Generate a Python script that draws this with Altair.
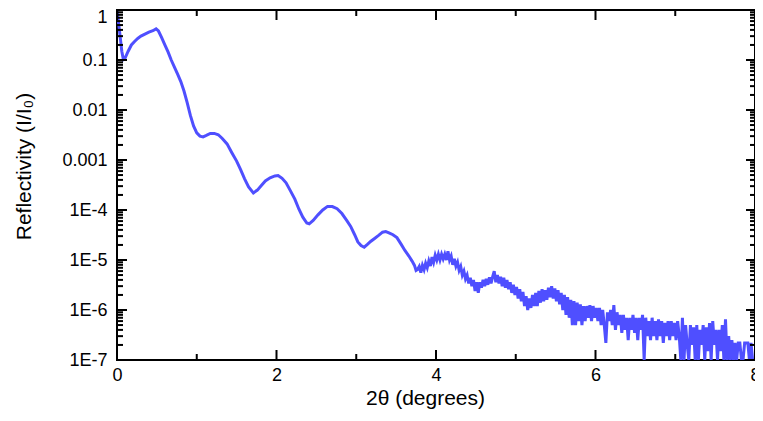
import altair as alt
import pandas as pd

# (2theta in degrees, reflectivity I/I0)
scan = [
    (0.00, 1.0), (0.03, 0.4), (0.06, 0.15), (0.08, 0.102), (0.10, 0.108),
    (0.14, 0.15), (0.18, 0.20), (0.22, 0.235), (0.26, 0.27), (0.30, 0.30),
    (0.35, 0.33), (0.40, 0.36), (0.45, 0.385), (0.49, 0.42), (0.52, 0.38),
    (0.56, 0.28), (0.60, 0.20), (0.64, 0.145), (0.68, 0.10), (0.72, 0.072),
    (0.76, 0.052), (0.80, 0.037), (0.84, 0.024), (0.88, 0.014), (0.92, 0.0078),
    (0.96, 0.0048), (1.00, 0.0035), (1.04, 0.0030), (1.08, 0.0029), (1.12, 0.0031),
    (1.17, 0.0034), (1.22, 0.0034), (1.27, 0.0032), (1.32, 0.0027), (1.38, 0.0021),
    (1.44, 0.0014), (1.50, 0.00095), (1.55, 0.00064), (1.60, 0.00042), (1.65, 0.00029),
    (1.71, 0.00022), (1.76, 0.00025), (1.81, 0.00031), (1.86, 0.00038), (1.92, 0.00044),
    (1.98, 0.00048), (2.02, 0.00049), (2.07, 0.00043), (2.12, 0.00035), (2.17, 0.00025),
    (2.23, 0.000165), (2.28, 0.000105), (2.33, 0.000072), (2.38, 0.000055), (2.41, 0.000053),
    (2.46, 0.000062), (2.52, 0.000080), (2.58, 0.000100), (2.64, 0.000118), (2.70, 0.000117),
    (2.76, 0.000106), (2.82, 0.000085), (2.88, 0.000062), (2.93, 0.000047), (2.98, 0.000032),
    (3.02, 0.000023), (3.06, 0.0000195), (3.10, 0.000018), (3.14, 0.0000205), (3.18, 0.0000235),
    (3.23, 0.000027), (3.28, 0.000031), (3.33, 0.000036), (3.37, 0.000037), (3.41, 0.000035),
    (3.46, 0.000032), (3.51, 0.000028), (3.56, 0.000021), (3.61, 0.0000155), (3.66, 0.000012),
    (3.70, 0.0000095), (3.73, 0.0000078), (3.75, 0.0000062),
    (3.77, 6.5e-6), (3.79, 7.4e-6), (3.81, 5.6e-6), (3.83, 7.8e-6), (3.85, 6.4e-6),
    (3.87, 8.6e-6), (3.89, 7.0e-6), (3.91, 9.6e-6), (3.93, 7.6e-6), (3.95, 1.15e-5),
    (3.97, 9.0e-6), (3.99, 1.25e-5), (4.01, 1.0e-5), (4.03, 1.3e-5), (4.05, 1.0e-5),
    (4.07, 1.3e-5), (4.09, 1.05e-5), (4.11, 1.3e-5), (4.13, 1.0e-5), (4.15, 1.5e-5),
    (4.17, 1.0e-5), (4.19, 1.2e-5), (4.21, 8.0e-6), (4.23, 1.05e-5), (4.25, 7.5e-6),
    (4.27, 9.0e-6), (4.29, 6.2e-6), (4.31, 7.4e-6), (4.33, 5.0e-6), (4.35, 6.0e-6),
    (4.37, 4.2e-6), (4.39, 5.0e-6), (4.41, 3.4e-6), (4.43, 4.4e-6), (4.45, 3.0e-6),
    (4.47, 4.0e-6), (4.49, 2.4e-6), (4.51, 3.6e-6), (4.53, 2.2e-6), (4.55, 3.6e-6),
    (4.57, 2.8e-6), (4.59, 4.0e-6), (4.61, 3.0e-6), (4.63, 4.2e-6), (4.65, 3.2e-6),
    (4.67, 4.5e-6), (4.69, 3.4e-6), (4.71, 4.6e-6), (4.73, 6.0e-6), (4.75, 3.6e-6),
    (4.77, 5.0e-6), (4.79, 3.4e-6), (4.81, 4.6e-6), (4.83, 3.0e-6), (4.85, 4.4e-6),
    (4.87, 2.8e-6), (4.89, 4.0e-6), (4.91, 2.6e-6), (4.93, 3.6e-6), (4.95, 2.2e-6),
    (4.97, 3.2e-6), (4.99, 2.0e-6), (5.01, 2.9e-6), (5.03, 1.7e-6), (5.05, 2.6e-6),
    (5.07, 1.5e-6), (5.09, 2.3e-6), (5.11, 1.2e-6), (5.13, 1.9e-6), (5.15, 1.0e-6),
    (5.17, 1.7e-6), (5.19, 1.1e-6), (5.21, 2.0e-6), (5.23, 1.2e-6), (5.25, 2.2e-6),
    (5.27, 1.2e-6), (5.29, 2.4e-6), (5.31, 1.4e-6), (5.33, 2.6e-6), (5.35, 1.5e-6),
    (5.37, 2.5e-6), (5.39, 1.6e-6), (5.41, 2.8e-6), (5.43, 1.8e-6), (5.45, 3.0e-6),
    (5.47, 1.7e-6), (5.49, 2.7e-6), (5.51, 1.5e-6), (5.53, 2.5e-6), (5.55, 1.3e-6),
    (5.57, 2.2e-6), (5.59, 1.0e-6), (5.61, 2.0e-6), (5.63, 8e-7), (5.65, 1.8e-6),
    (5.67, 7e-7), (5.69, 1.6e-6), (5.71, 5e-7), (5.73, 1.5e-6), (5.75, 5e-7),
    (5.77, 1.4e-6), (5.79, 6e-7), (5.81, 1.3e-6), (5.83, 5e-7), (5.85, 1.2e-6),
    (5.87, 6e-7), (5.89, 1.2e-6), (5.91, 7e-7), (5.93, 1.25e-6), (5.95, 6e-7),
    (5.97, 1.2e-6), (5.99, 7e-7), (6.01, 1.1e-6), (6.03, 6e-7), (6.05, 1.1e-6),
    (6.07, 5e-7), (6.09, 1.0e-6), (6.11, 5e-7), (6.13, 2.2e-7), (6.15, 9e-7),
    (6.17, 6e-7), (6.19, 1.0e-6), (6.21, 5e-7), (6.23, 1.25e-6), (6.25, 4e-7),
    (6.27, 9e-7), (6.29, 5e-7), (6.31, 8e-7), (6.33, 3.5e-7), (6.35, 8e-7),
    (6.37, 4e-7), (6.39, 7e-7), (6.41, 2.5e-7), (6.43, 7e-7), (6.45, 4e-7),
    (6.47, 8e-7), (6.49, 3.5e-7), (6.51, 7e-7), (6.53, 2.5e-7), (6.55, 7e-7),
    (6.57, 4e-7), (6.59, 8e-7), (6.61, 1e-7), (6.63, 7e-7), (6.65, 3e-7),
    (6.67, 6e-7), (6.69, 2.5e-7), (6.71, 7e-7), (6.73, 3e-7), (6.75, 6e-7),
    (6.77, 2.5e-7), (6.79, 6.5e-7), (6.81, 3e-7), (6.83, 6e-7), (6.85, 2.2e-7),
    (6.87, 5.5e-7), (6.89, 3e-7), (6.91, 6e-7), (6.93, 2.5e-7), (6.95, 6e-7),
    (6.97, 3e-7), (6.99, 5.5e-7), (7.01, 2.5e-7), (7.03, 6e-7), (7.05, 3e-7),
    (7.07, 1e-7), (7.09, 7e-7), (7.11, 1e-7), (7.13, 5e-7), (7.15, 2e-7),
    (7.17, 1e-7), (7.19, 5e-7), (7.21, 2e-7), (7.23, 4.5e-7), (7.25, 1e-7),
    (7.27, 5e-7), (7.29, 1e-7), (7.31, 4e-7), (7.33, 2e-7), (7.35, 5e-7),
    (7.37, 1e-7), (7.39, 4.5e-7), (7.41, 1.5e-7), (7.43, 5.5e-7), (7.45, 1e-7),
    (7.47, 6e-7), (7.49, 2e-7), (7.51, 4e-7), (7.53, 1e-7), (7.55, 4e-7),
    (7.57, 1.5e-7), (7.59, 5e-7), (7.61, 1e-7), (7.63, 6.5e-7), (7.65, 1e-7),
    (7.67, 3e-7), (7.69, 1e-7), (7.71, 2.5e-7), (7.73, 1e-7), (7.75, 2.2e-7),
    (7.77, 1e-7), (7.79, 2.2e-7), (7.81, 2.2e-7), (7.83, 1e-7), (7.85, 1e-7),
    (7.87, 2.2e-7), (7.89, 2.2e-7), (7.91, 2.2e-7), (7.93, 1e-7), (7.95, 2.2e-7),
    (7.97, 1e-7),
]

x_labels = [0, 2, 4, 6, 8]
x_minor = [1, 3, 5, 7]
y_labels = [1e-7, 1e-6, 1e-5, 1e-4, 1e-3, 1e-2, 1e-1, 1]
y_minor = [m * d for d in [1e-7, 1e-6, 1e-5, 1e-4, 1e-3, 1e-2, 1e-1] for m in range(2, 10)]

W, H = 638, 350
FONT = "Liberation Sans"

df = pd.DataFrame(scan, columns=["x", "y"])
xs = alt.Scale(domain=[0, 8], nice=False, zero=False)
ys = alt.Scale(type="log", domain=[1e-7, 1], nice=False)

x_axis = alt.Axis(
    values=x_labels, orient="bottom", ticks=False, domain=False, grid=False,
    labelFlush=False, title="2θ (degrees)", titleX=308, titleY=38,
    titleAlign="center", titleBaseline="middle", labelPadding=6)
y_axis = alt.Axis(
    values=y_labels, orient="left", ticks=False, domain=False, grid=False,
    labelExpr="datum.value >= 0.001 ? format(datum.value, '~g') : '1E-' + round(-log(datum.value)/LN10)",
    labelOffset={"condition": {"test": "datum.value >= 1", "value": 7}, "value": 0},
    title="Reflectivity (I/I₀)",
    titleAngle=270, titleX=-93, titleY=156, titleAlign="center",
    titleBaseline="middle", labelPadding=10)

line = alt.Chart(df).mark_line(clip=True, color="#4f4fff", strokeWidth=3).encode(
    x=alt.X("x:Q", scale=xs, axis=x_axis),
    y=alt.Y("y:Q", scale=ys, axis=y_axis),
)

# Inward tick marks drawn as stroked symbol paths (path length = sqrt(size) / 2 px).
def size_for(length):
    return (2 * length) ** 2

def xticks(vals, length, bottom):
    shape = "M0,0L0,-1" if bottom else "M0,0L0,1"
    return alt.Chart(pd.DataFrame({"x": vals})).mark_point(
        shape=shape, size=size_for(length), filled=False, stroke="black",
        strokeWidth=2, opacity=1, strokeCap="butt"
    ).encode(x=alt.X("x:Q", scale=xs, axis=None), y=alt.value(H if bottom else 0))

def yticks(vals, length, left):
    shape = "M0,0L1,0" if left else "M0,0L-1,0"
    return alt.Chart(pd.DataFrame({"y": vals})).mark_point(
        shape=shape, size=size_for(length), filled=False, stroke="black",
        strokeWidth=2, opacity=1, strokeCap="butt"
    ).encode(y=alt.Y("y:Q", scale=ys, axis=None), x=alt.value(0 if left else W))

chart = alt.layer(
    line,
    xticks(x_labels, 10, True), xticks(x_minor, 6, True),
    xticks(x_labels, 10, False), xticks(x_minor, 6, False),
    yticks(y_labels, 10, True), yticks(y_minor, 6, True),
    yticks(y_labels, 9, False), yticks(y_minor, 5, False),
).resolve_axis(
    x="independent", y="independent"
).properties(
    width=W, height=H,
    autosize=alt.AutoSizeParams(type="none"),
    padding={"left": 109, "top": 2, "right": 0, "bottom": 50},
).configure_view(
    stroke="black", strokeWidth=2
).configure_axis(
    labelFont=FONT, labelFontSize=18, labelColor="black",
    titleFont=FONT, titleFontSize=21, titleFontWeight="normal", titleColor="black",
)

chart.save("out.html", embed_options={"renderer": "svg", "actions": False})
